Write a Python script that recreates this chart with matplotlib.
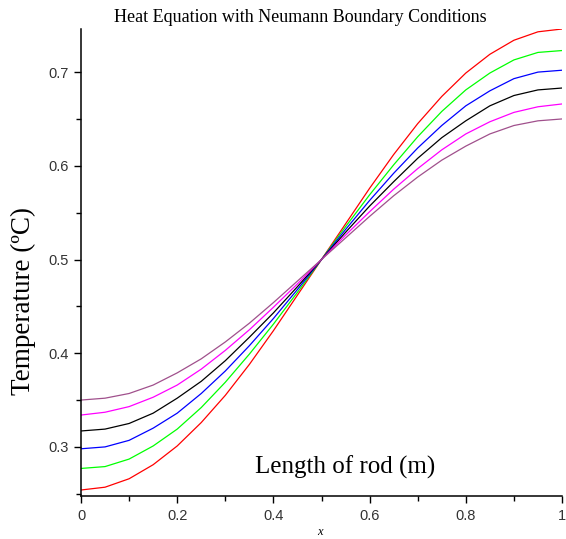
import numpy as np
import matplotlib
matplotlib.use("Agg")
import matplotlib.pyplot as plt
from matplotlib.ticker import MultipleLocator

# x positions along the rod
x = [0.0, 0.05, 0.1, 0.15, 0.2, 0.25, 0.3, 0.35, 0.4, 0.45, 0.5,
     0.55, 0.6, 0.65, 0.7, 0.75, 0.8, 0.85, 0.9, 0.95, 1.0]

# temperature curves
u_red = [0.254, 0.257, 0.266, 0.281, 0.301, 0.326, 0.355, 0.388, 0.424, 0.462, 0.5,
         0.538, 0.576, 0.612, 0.645, 0.674, 0.699, 0.719, 0.734, 0.743, 0.746]
u_green = [0.277, 0.279, 0.287, 0.301, 0.319, 0.342, 0.369, 0.399, 0.431, 0.465, 0.5,
           0.535, 0.569, 0.601, 0.631, 0.658, 0.681, 0.699, 0.713, 0.721, 0.723]
u_blue = [0.298, 0.300, 0.307, 0.320, 0.336, 0.357, 0.381, 0.408, 0.437, 0.468, 0.5,
          0.532, 0.563, 0.592, 0.619, 0.643, 0.664, 0.680, 0.693, 0.700, 0.702]
u_black = [0.317, 0.319, 0.325, 0.336, 0.352, 0.370, 0.392, 0.417, 0.443, 0.471, 0.5,
           0.529, 0.557, 0.583, 0.608, 0.630, 0.648, 0.664, 0.675, 0.681, 0.683]
u_magenta = [0.334, 0.337, 0.343, 0.353, 0.366, 0.383, 0.403, 0.425, 0.449, 0.474, 0.5,
             0.526, 0.551, 0.575, 0.597, 0.617, 0.634, 0.647, 0.657, 0.663, 0.666]
u_purple = [0.350, 0.352, 0.357, 0.366, 0.379, 0.394, 0.412, 0.432, 0.454, 0.477, 0.5,
            0.523, 0.546, 0.568, 0.588, 0.606, 0.621, 0.634, 0.643, 0.648, 0.650]

curves = [u_red, u_green, u_blue, u_black, u_magenta, u_purple]
colors = ['#ff0000', '#00ff00', '#0000ff', '#000000', '#ff00ff', '#a0508c']

xticks = [0, 0.2, 0.4, 0.6, 0.8, 1.0]
xticklabels = ['0', '0.2', '0.4', '0.6', '0.8', '1']
yticks = [0.3, 0.4, 0.5, 0.6, 0.7]
yticklabels = ['0.3', '0.4', '0.5', '0.6', '0.7']

fig = plt.figure(figsize=(5.66, 5.39), dpi=100)
ax = fig.add_axes([81 / 566, 43 / 539, 481 / 566, 467 / 539])

for u, c in zip(curves, colors):
    ax.plot(x, u, color=c, linewidth=0.9)

ax.set_xlim(0, 1)
ax.set_ylim(0.2476, 0.746)

ax.spines['top'].set_visible(False)
ax.spines['right'].set_visible(False)
ax.spines['left'].set_linewidth(1.1)
ax.spines['bottom'].set_linewidth(1.1)

ax.set_xticks(xticks)
ax.set_xticklabels(xticklabels)
ax.set_yticks(yticks)
ax.set_yticklabels(yticklabels)
ax.xaxis.set_minor_locator(MultipleLocator(0.1))
ax.yaxis.set_minor_locator(MultipleLocator(0.05))
ax.tick_params(which='major', direction='out', length=5, width=1.0,
               labelsize=10.5, labelcolor='#333333', pad=4)
ax.tick_params(which='minor', direction='out', length=3.5, width=1.0)
for lab in ax.get_xticklabels() + ax.get_yticklabels():
    lab.set_family('Liberation Sans')

fig.text(300 / 566, 1 - 17 / 539, 'Heat Equation with Neumann Boundary Conditions',
         family='Liberation Serif', fontsize=13, ha='center', va='center')
fig.text(345 / 566, 1 - 467 / 539, 'Length of rod (m)',
         family='Liberation Serif', fontsize=18, ha='center', va='center')
fig.text(23 / 566, 1 - 301 / 539, 'Temperature (\u00baC)',
         family='Liberation Serif', fontsize=19.5, ha='center', va='center', rotation=90)
fig.text(320 / 566, 1 - 532 / 539, 'x', family='Liberation Serif', style='italic',
         fontsize=9, ha='center', va='center')

fig.savefig('out.png', dpi=100)
